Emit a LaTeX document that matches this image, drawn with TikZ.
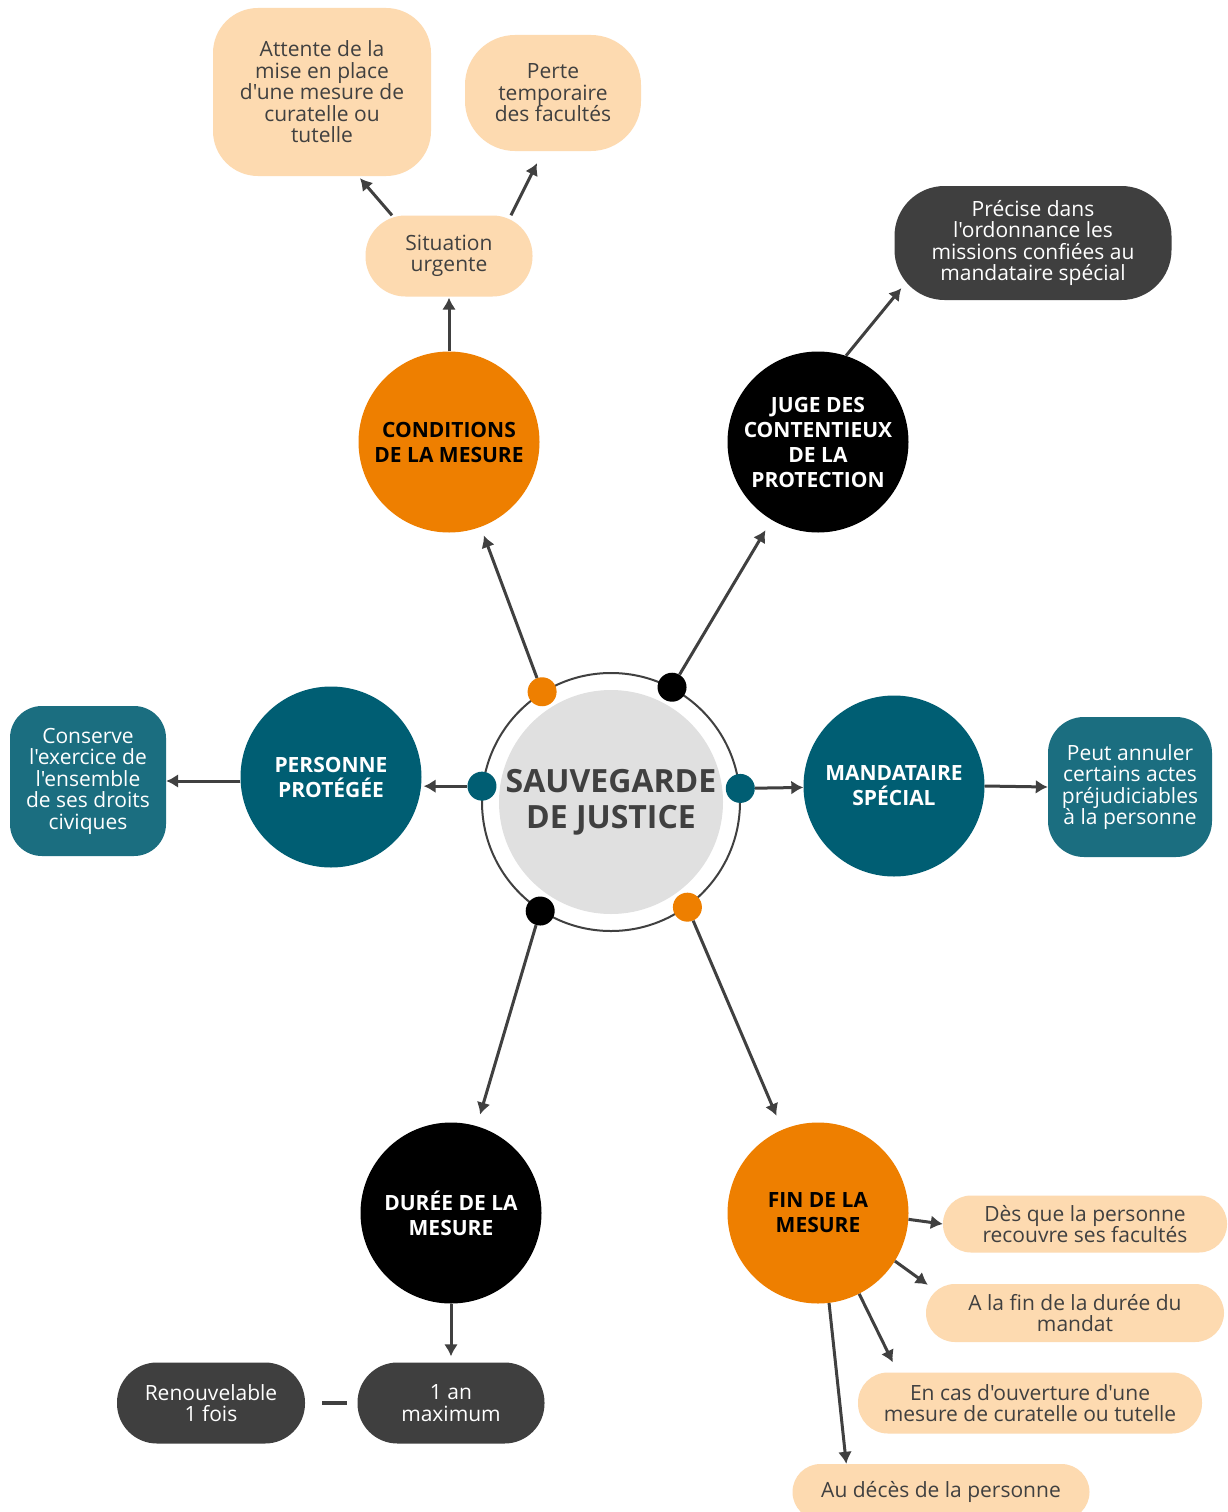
\documentclass[tikz,border=0pt]{standalone}
\usepackage{fontspec}
\setmainfont{Open Sans}[Ligatures=TeXOff]
\usetikzlibrary{arrows.meta, positioning, calc}
\definecolor{mesureorange}{RGB}{238,127,0}
\definecolor{deepteal}{RGB}{0,94,115}
\definecolor{softteal}{RGB}{27,110,128}
\definecolor{peach}{RGB}{253,218,176}
\definecolor{charcoal}{RGB}{63,63,63}
\definecolor{coregray}{RGB}{224,224,224}
\definecolor{inkgray}{RGB}{64,64,64}

\begin{document}
\begin{tikzpicture}[x=1pt, y=-1pt,
        bubble/.style={circle, minimum size=181pt, inner sep=0pt, align=center, font=\bfseries\fontsize{21}{25}\selectfont},
        pill/.style={align=center, inner sep=0pt, font=\fontsize{21}{21.5}\selectfont},
        peachbox/.style={pill, fill=peach, text=inkgray},
        darkbox/.style={pill, fill=charcoal, text=white},
        tealbox/.style={pill, fill=softteal, text=white},
        dot/.style={circle, minimum size=29pt, inner sep=0pt},
        link/.style={draw=inkgray, line width=3pt, -{Latex[length=12pt,width=14pt]}}]
        \fill[white] (0,0) rectangle (1227,1512);
        \useasboundingbox (0,0) rectangle (1227,1512);

        \node[circle, draw=inkgray, line width=2pt, minimum size=258pt] (ring) at (611,802) {};
        \node[circle, fill=coregray, minimum size=224pt, inner sep=0pt, align=center, text=inkgray, font=\bfseries\fontsize{32}{36}\selectfont] (core) at (611,802) {SAUVEGARDE\\DE JUSTICE};

        \node[dot, fill=mesureorange] (dcond) at (ring.122) {};
        \node[dot, fill=black] (djuge) at (ring.62) {};
        \node[dot, fill=deepteal] (dpers) at (ring.173) {};
        \node[dot, fill=deepteal] (dmand) at (ring.6) {};
        \node[dot, fill=black] (dduree) at (ring.237) {};
        \node[dot, fill=mesureorange] (dfin) at (ring.306) {};

        \node[bubble, fill=mesureorange, text=black] (cond) at (449,442) {CONDITIONS\\DE LA MESURE};
        \node[bubble, fill=black, text=white] (juge) at (818,442) {JUGE DES\\CONTENTIEUX\\DE LA\\PROTECTION};
        \node[bubble, fill=deepteal, text=white] (pers) at (331,777) {PERSONNE\\PROTÉGÉE};
        \node[bubble, fill=deepteal, text=white] (mand) at (894,786) {MANDATAIRE\\SPÉCIAL};
        \node[bubble, fill=black, text=white] (duree) at (451,1213) {DURÉE DE LA\\MESURE};
        \node[bubble, fill=mesureorange, text=black] (fin) at (818,1213) {FIN DE LA\\MESURE};

        \node[peachbox, minimum width=167pt, minimum height=81pt, rounded corners=40pt] (sit) at (449,256) {Situation\\urgente};
        \node[peachbox, minimum width=218pt, minimum height=168pt, rounded corners=45pt] (att) at (322,92) {Attente de la\\mise en place\\d'une mesure de\\curatelle ou\\tutelle};
        \node[peachbox, minimum width=176pt, minimum height=116pt, rounded corners=50pt] (perte) at (553,93) {Perte\\temporaire\\des facultés};
        \node[darkbox, minimum width=277pt, minimum height=114pt, rounded corners=50pt] (prec) at (1033,243) {Précise dans\\l'ordonnance les\\missions confiées au\\mandataire spécial};
        \node[tealbox, minimum width=156pt, minimum height=150pt, rounded corners=32pt] (cons) at (88,781) {Conserve\\l'exercice de\\l'ensemble\\de ses droits\\civiques};
        \node[tealbox, minimum width=164pt, minimum height=140pt, rounded corners=36pt] (peut) at (1130,787) {Peut annuler\\certains actes\\préjudiciables\\à la personne};
        \node[darkbox, minimum width=187pt, minimum height=81pt, rounded corners=40pt] (an) at (451,1403) {1 an\\maximum};
        \node[darkbox, minimum width=188pt, minimum height=81pt, rounded corners=40pt] (renouv) at (211,1403) {Renouvelable\\1 fois};
        \node[peachbox, minimum width=284pt, minimum height=57pt, rounded corners=28pt] (des) at (1085,1224) {Dès que la personne\\recouvre ses facultés};
        \node[peachbox, minimum width=298pt, minimum height=58pt, rounded corners=29pt] (mandat) at (1075,1313) {A la fin de la durée du\\mandat};
        \node[peachbox, minimum width=344pt, minimum height=61pt, rounded corners=30pt] (cas) at (1030,1403) {En cas d'ouverture d'une\\mesure de curatelle ou tutelle};
        \node[peachbox, minimum width=297pt, minimum height=56pt, rounded corners=28pt] (deces) at (941,1492) {Au décès de la personne};

        \draw[link, shorten >=9pt] (dcond) -- (cond);
        \draw[link, shorten >=12pt] (djuge) -- (juge);
        \draw[link, shorten >=2pt] (dpers) -- (dpers -| pers.east);
        \draw[link] (dmand) -- (mand);
        \draw[link, shorten >=12pt] (dduree) -- (duree);
        \draw[link, shorten >=15pt] (dfin) -- (fin);

        \draw[link, shorten >=1pt] (cond.north) -- (sit.south);
        \draw[link] ([xshift=-57pt]sit.north) -- ([xshift=38pt,yshift=-2pt]att.south);
        \draw[link] ([xshift=62pt]sit.north) -- ([xshift=-16pt,yshift=-12pt]perte.south);
        \draw[link] (juge.72) -- ([xshift=7pt,yshift=12pt]prec.south west);
        \draw[link] (cons.east -| pers.west) -- (cons.east);
        \draw[link] (mand.east) -- (peut.west);
        \draw[link, shorten >=6pt] (duree.south) -- (an.north);
        \draw[inkgray, line width=3.5pt, shorten <=17pt, shorten >=10pt] (renouv.east) -- (an.west);
        \draw[link] (fin.-4) -- (des.west);
        \draw[link] (fin.-32) -- ([xshift=2pt,yshift=-1pt]mandat.north west);
        \draw[link] (fin.-63) -- ([xshift=35pt,yshift=10pt]cas.north west);
        \draw[link] (fin.-83) -- ([xshift=54pt]deces.north west);
    \end{tikzpicture}
\end{document}
